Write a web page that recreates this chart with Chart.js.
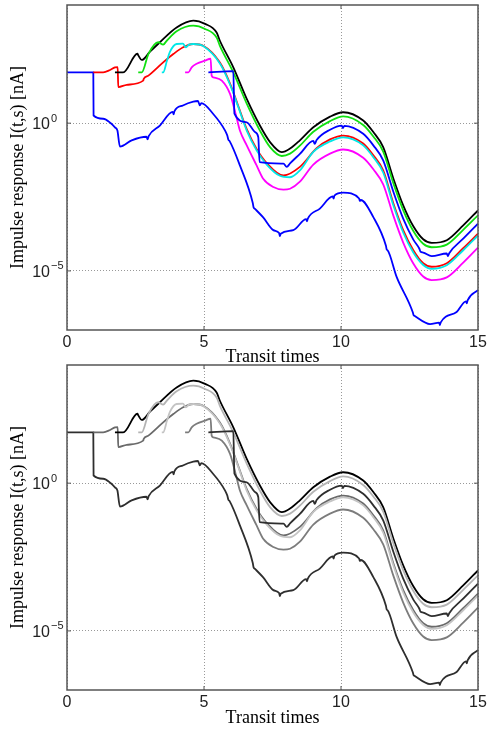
<!DOCTYPE html>
<html lang="en">
<head>
  <meta charset="UTF-8" />
  <title>Impulse response vs transit times</title>
  <style>
    body { margin: 0; background: #fff; }
    canvas { position: absolute; left: 0; }
    #topPanel { top: 0; }
    #bottomPanel { top: 358px; }
  </style>
</head>
<body>
  <canvas id="topPanel" width="488" height="368"></canvas>
  <canvas id="bottomPanel" width="488" height="374"></canvas>

  <script src="https://cdn.jsdelivr.net/npm/chart.js"></script>
  <script>
    // axis ticks
    const xTicks = [0, 5, 10, 15];
    const yTicks = [1e-5, 1];
    const yTickBase = '10';
    const yTickExp = ['\u22125', '0'];

    // each channel: transit time t and log10 of the current I(t,s) in nA
    const tBlueLow = [0, 0.96, 0.97, 1.32, 1.6, 1.75, 1.84, 1.93, 2.36, 2.9, 2.94, 2.98, 3.39, 3.86, 3.89, 3.92, 4.23, 4.61, 4.78, 4.85, 4.9, 5.33, 5.77, 5.85, 5.89, 5.93, 6.31, 6.78, 6.81, 6.86, 7.16, 7.53, 7.74, 7.77, 7.8, 8.26, 8.73, 8.76, 8.79, 9.23, 9.7, 9.73, 9.76, 10.08, 10.66, 10.69, 10.72, 11.18, 11.64, 11.67, 11.7, 12.03, 12.62, 12.65, 12.68, 13.25, 13.58, 13.61, 13.64, 14.22, 14.56, 14.59, 14.62, 15];
    const lgBlueLow = [1.72, 1.72, 0.26, 0.15, 0.0, -0.14, -0.25, -0.79, -0.58, -0.46, -0.55, -0.44, -0.08, 0.38, 0.3, 0.4, 0.6, 0.73, 0.75, 0.6, 0.68, 0.32, -0.25, -0.42, -0.56, -0.6, -1.43, -2.7, -2.85, -2.9, -3.19, -3.62, -3.72, -3.82, -3.74, -3.62, -3.25, -3.32, -3.23, -2.89, -2.48, -2.55, -2.45, -2.35, -2.55, -2.63, -2.6, -3.18, -4.15, -4.28, -4.3, -5.2, -6.4, -6.5, -6.52, -6.8, -6.75, -6.83, -6.74, -6.39, -6.03, -6.1, -6.0, -5.65];

    const tRed = [0.96, 1.32, 1.57, 1.75, 1.85, 1.87, 2.18, 2.78, 2.8, 2.97, 3.51, 3.88, 4.24, 4.61, 4.97, 5.58, 5.95, 6.25, 6.56, 6.92, 7.29, 7.9, 8.5, 9.11, 9.6, 10.08, 10.81, 11.18, 11.54, 11.91, 12.27, 12.64, 13.0, 13.31, 13.86, 14.46, 15];
    const lgRed = [1.72, 1.72, 1.8, 1.89, 1.9, 1.22, 1.3, 1.44, 1.5, 1.61, 2.06, 2.34, 2.57, 2.68, 2.62, 2.05, 1.34, 0.58, -0.2, -0.87, -1.35, -1.77, -1.48, -0.85, -0.55, -0.42, -0.69, -1.09, -1.6, -2.71, -3.62, -4.3, -4.74, -4.86, -4.74, -4.23, -3.74];

    const tBlack = [1.75, 2.05, 2.57, 2.6, 2.73, 3.03, 3.39, 4.0, 4.61, 5.04, 5.46, 5.58, 6.07, 6.56, 7.04, 7.41, 7.84, 8.14, 8.5, 8.99, 9.6, 10.08, 10.81, 11.18, 11.54, 11.91, 12.27, 12.64, 13.0, 13.31, 13.86, 14.46, 15];
    const lgBlack = [1.72, 1.72, 2.35, 2.3, 2.14, 2.42, 2.74, 3.24, 3.47, 3.36, 3.07, 2.79, 1.89, 0.82, -0.08, -0.64, -0.98, -0.86, -0.58, -0.14, 0.22, 0.37, 0.09, -0.3, -0.81, -1.87, -2.78, -3.49, -3.93, -4.05, -3.96, -3.46, -2.95];

    const tGreen = [2.6, 2.73, 2.97, 3.33, 3.51, 3.64, 4.0, 4.61, 5.04, 5.46, 5.58, 6.07, 6.56, 7.04, 7.41, 7.84, 8.14, 8.5, 8.99, 9.6, 10.08, 10.81, 11.18, 11.54, 11.91, 12.27, 12.64, 13.0, 13.31, 13.86, 14.46, 15];
    const lgGreen = [1.72, 1.72, 2.34, 2.74, 2.66, 2.79, 3.11, 3.3, 3.19, 2.9, 2.62, 1.72, 0.66, -0.25, -0.81, -1.11, -1.03, -0.76, -0.29, 0.07, 0.23, -0.06, -0.45, -0.96, -2.03, -2.94, -3.65, -4.08, -4.2, -4.11, -3.61, -3.12];

    const tCyan = [3.46, 3.51, 3.65, 3.76, 4.0, 4.23, 4.34, 4.45, 4.61, 4.97, 5.58, 5.95, 6.25, 6.56, 6.92, 7.29, 7.77, 8.14, 8.5, 8.99, 9.6, 10.08, 10.81, 11.18, 11.54, 11.91, 12.27, 12.64, 13.0, 13.31, 13.86, 14.46, 15];
    const lgCyan = [1.72, 1.72, 2.12, 2.42, 2.68, 2.69, 2.57, 2.66, 2.68, 2.61, 2.02, 1.31, 0.55, -0.25, -0.92, -1.4, -1.78, -1.83, -1.6, -0.97, -0.62, -0.48, -0.75, -1.15, -1.67, -2.78, -3.7, -4.38, -4.8, -4.93, -4.81, -4.3, -3.8];

    const tMagenta = [4.31, 4.43, 4.55, 4.73, 5.04, 5.24, 5.28, 5.34, 5.65, 5.95, 6.17, 6.31, 6.56, 6.92, 7.16, 7.53, 7.9, 8.14, 8.5, 8.99, 9.6, 10.08, 10.81, 11.18, 11.54, 11.91, 12.27, 12.64, 13.0, 13.31, 13.86, 14.46, 15];
    const lgMagenta = [1.72, 1.72, 1.89, 2.01, 2.12, 2.18, 1.61, 1.55, 1.44, 0.99, 0.26, -0.25, -0.75, -1.43, -1.88, -2.16, -2.25, -2.22, -1.98, -1.4, -1.03, -0.89, -1.17, -1.56, -2.07, -3.13, -4.04, -4.75, -5.19, -5.31, -5.22, -4.72, -4.21];

    const tBlueHigh = [5.16, 6.07, 6.11, 6.56, 6.86, 6.98, 7.03, 7.9, 8.02, 8.14, 8.5, 8.99, 9.04, 9.11, 9.6, 10.03, 10.07, 10.12, 10.81, 11.18, 11.54, 11.91, 12.27, 12.64, 12.86, 12.9, 13.0, 13.31, 13.86, 13.9, 13.95, 14.46, 15];
    const lgBlueHigh = [1.72, 1.76, 0.32, 0.03, -0.3, -0.47, -1.32, -1.37, -1.48, -1.36, -1.04, -0.6, -0.7, -0.57, -0.22, -0.08, -0.17, -0.09, -0.36, -0.75, -1.26, -2.32, -3.23, -3.94, -4.25, -4.35, -4.38, -4.5, -4.41, -4.5, -4.4, -3.91, -3.4];

    // drawing order: first entry ends up on top
    const channels = [
      { t: tBlueHigh, lg: lgBlueHigh, color: '#0000ff', gray: '#2e2e2e' },
      { t: tMagenta, lg: lgMagenta, color: '#ff00ff', gray: '#7c7c7c' },
      { t: tCyan, lg: lgCyan, color: '#00e8e8', gray: '#c4c4c4' },
      { t: tGreen, lg: lgGreen, color: '#10e010', gray: '#b4b4b4' },
      { t: tBlack, lg: lgBlack, color: '#000000', gray: '#000000' },
      { t: tRed, lg: lgRed, color: '#ff0000', gray: '#6a6a6a' },
      { t: tBlueLow, lg: lgBlueLow, color: '#0000ff', gray: '#2e2e2e' }
    ];

    const serif = "'Liberation Serif', 'Times New Roman', serif";
    const sans = "'Liberation Sans', Arial, sans-serif";

    // box around the plot area, short inward tick marks and 10^n labels
    const framePlugin = {
      id: 'frame',
      afterDraw(chart) {
        const { ctx, chartArea: a, scales } = chart;
        ctx.save();
        ctx.strokeStyle = '#555';
        ctx.lineWidth = 1.5;
        ctx.strokeRect(a.left, a.top, a.right - a.left, a.bottom - a.top);
        ctx.beginPath();
        xTicks.slice(1, -1).forEach(v => {
          const px = scales.x.getPixelForValue(v);
          ctx.moveTo(px, a.bottom); ctx.lineTo(px, a.bottom - 4);
          ctx.moveTo(px, a.top); ctx.lineTo(px, a.top + 4);
        });
        yTicks.forEach(v => {
          const py = scales.y.getPixelForValue(v);
          ctx.moveTo(a.left, py); ctx.lineTo(a.left + 4, py);
          ctx.moveTo(a.right, py); ctx.lineTo(a.right - 4, py);
        });
        ctx.lineWidth = 1;
        ctx.stroke();

        ctx.fillStyle = '#222';
        ctx.textBaseline = 'alphabetic';
        yTicks.forEach((v, i) => {
          const base = scales.y.getPixelForValue(v) + 6;
          ctx.font = '16px ' + sans;
          ctx.textAlign = 'right';
          ctx.fillText(yTickBase, a.left - 17, base);
          ctx.font = '11px ' + sans;
          ctx.textAlign = 'left';
          ctx.fillText(yTickExp[i], a.left - 16, base - 7.5);
        });
        ctx.restore();
      }
    };

    function makePanel(id, useGray, padTop, axisHeight, titlePad) {
      const datasets = channels.map(c => ({
        data: c.t.map((t, i) => ({ x: t, y: Math.pow(10, c.lg[i]) })),
        borderColor: useGray ? c.gray : c.color,
        borderWidth: 1.8,
        pointRadius: 0,
        cubicInterpolationMode: 'monotone',
        fill: false
      }));

      return new Chart(document.getElementById(id), {
        type: 'line',
        data: { datasets },
        plugins: [framePlugin],
        options: {
          responsive: false,
          animation: false,
          layout: { padding: { top: padTop, right: 10, left: 0, bottom: 0 } },
          plugins: { legend: { display: false }, tooltip: { enabled: false } },
          scales: {
            x: {
              type: 'linear',
              min: 0,
              max: 15,
              afterBuildTicks: s => { s.ticks = xTicks.map(v => ({ value: v })); },
              afterFit: s => { s.height = axisHeight; s.paddingLeft = 0; s.paddingRight = 0; },
              ticks: { font: { family: sans, size: 16 }, color: '#222', padding: 3, maxRotation: 0 },
              grid: { color: '#999', lineWidth: 1, drawTicks: false },
              border: { display: false, dash: [1, 2] },
              title: {
                display: true,
                text: 'Transit times',
                font: { family: serif, size: 18 },
                color: '#000',
                padding: { top: 0, bottom: titlePad }
              }
            },
            y: {
              type: 'logarithmic',
              min: 1e-7,
              max: 1e4,
              afterBuildTicks: s => { s.ticks = yTicks.map(v => ({ value: v })); },
              afterFit: s => { s.width = 67; s.paddingTop = 0; s.paddingBottom = 0; },
              ticks: { display: false },
              grid: { color: '#999', lineWidth: 1, drawTicks: false },
              border: { display: false, dash: [1, 2] },
              title: {
                display: true,
                text: 'Impulse response I(t,s) [nA]',
                font: { family: serif, size: 18 },
                color: '#000',
                padding: { top: 7, bottom: 0 }
              }
            }
          }
        }
      });
    }

    makePanel('topPanel', false, 5, 38, 0);
    makePanel('bottomPanel', true, 7, 42, 2.5);
  </script>
</body>
</html>
